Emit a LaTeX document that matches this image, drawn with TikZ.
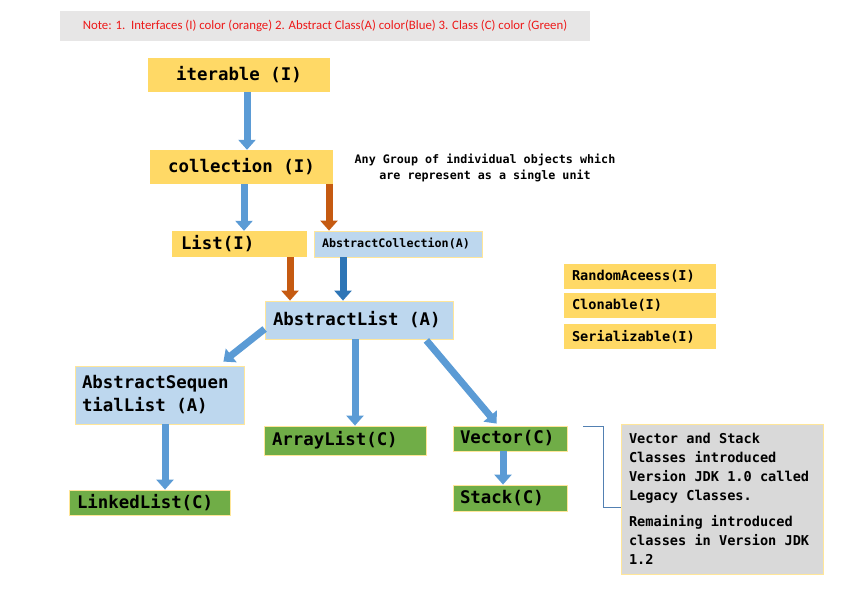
\documentclass[tikz,border=0pt]{standalone}
\usepackage{fontspec}
\setmonofont{DejaVu Sans Mono}[WordSpace={1,0,0}]
\newfontfamily\calfont{Carlito}
\usetikzlibrary{arrows.meta}
\definecolor{myellow}{rgb}{1, 0.851, 0.4}
\definecolor{mlblue}{rgb}{0.741, 0.843, 0.933}
\definecolor{mgreen}{rgb}{0.439, 0.678, 0.278}
\definecolor{mblue}{rgb}{0.357, 0.608, 0.835}
\definecolor{mdblue}{rgb}{0.18, 0.459, 0.714}
\definecolor{morange}{rgb}{0.773, 0.353, 0.067}
\definecolor{mgray}{rgb}{0.906, 0.902, 0.902}
\definecolor{lgray}{rgb}{0.851, 0.851, 0.851}
\definecolor{mborder}{rgb}{1, 0.902, 0.6}
\definecolor{mred}{rgb}{0.93, 0.1, 0.1}
\definecolor{mline}{rgb}{0.32, 0.5, 0.7}
\tikzset{bigtt/.style = {font=\ttfamily\bfseries\fontsize{17.4}{23}\selectfont}}
\tikzset{medtt/.style = {font=\ttfamily\bfseries\fontsize{13.6}{19}\selectfont}}
\tikzset{smalltt/.style = {font=\ttfamily\bfseries\fontsize{11.7}{16}\selectfont}}
\tikzset{iface/.style = {fill=myellow, inner xsep=8pt, inner ysep=0pt, align=flush left}}
\tikzset{absc/.style = {fill=mlblue, draw=mborder, line width=0.8pt, inner xsep=8pt, inner ysep=0pt, align=flush left}}
\tikzset{cls/.style = {fill=mgreen, draw=mborder, line width=0.8pt, inner xsep=8pt, inner ysep=0pt, align=flush left}}
\tikzset{arr/.style = {line width=7pt, -{Triangle[length=10pt, width=17pt]}}}

\begin{document}
\begin{tikzpicture}[x=1pt, y=-1pt]
  \useasboundingbox (0,0) rectangle (853,589);

  \node [fill=mgray, minimum width=530pt, minimum height=30pt, text=mred,
         font=\calfont\fontsize{12.8}{15}\selectfont] (note) at (325,26)
        {Note: 1.\ \ Interfaces (I) color (orange) 2. Abstract Class(A) color(Blue) 3. Class (C) color (Green)};

  \node [iface, bigtt, align=flush center, text width=166pt, minimum height=34pt] (iter) at (239,75) {iterable (I)};
  \node [iface, bigtt, align=flush center, text width=167pt, minimum height=34pt] (coll) at (241.5,167) {collection (I)};
  \node [smalltt, align=center] (grp) at (485,168) {Any Group of individual objects which\\are represent as a single unit};

  \node [iface, bigtt, text width=117pt, minimum height=26pt, inner xsep=9pt] (list) at (239.5,244) {List(I)};
  \node [absc, smalltt, text width=152pt, minimum height=26pt] (acoll) at (398,244) {AbstractCollection(A)};
  \node [absc, bigtt, text width=172pt, minimum height=38pt] (alist) at (359,320) {AbstractList (A)};

  \node [absc, bigtt, text width=155pt, minimum height=58pt, inner xsep=7pt] (asl) at (159.5,395) {AbstractSequen\\tialList (A)};
  \node [cls, bigtt, text width=146pt, minimum height=29pt] (alst) at (345,440.5) {ArrayList(C)};
  \node [cls, bigtt, text width=100pt, minimum height=25pt, inner xsep=7pt] (vec) at (510,438.5) {Vector(C)};
  \node [cls, bigtt, text width=100pt, minimum height=26pt, inner xsep=7pt] (stk) at (510,498) {Stack(C)};
  \node [cls, bigtt, text width=145pt, minimum height=25pt] (llist) at (149.5,502.5) {LinkedList(C)};

  \foreach \name/\y/\txt in {rand/276.5/RandomAceess(I), clon/305.5/Clonable(I), ser/336.5/Serializable(I)} {
    \node [iface, medtt, text width=136pt, minimum height=25pt] (\name) at (640,\y) {\txt};
  }

  \node [fill=lgray, draw=mborder, line width=0.8pt, medtt, align=flush left, text width=186pt,
         inner xsep=8pt, minimum height=150pt] (legacy) at (722,499)
        {Vector and Stack\\Classes introduced\\Version JDK 1.0 called\\Legacy Classes.\\[7pt]Remaining introduced\\classes in Version JDK\\1.2};

  \draw [arr, mblue] ([xshift=8pt]iter.south) -- ([xshift=5.5pt]coll.north);
  \draw [arr, mblue] ([xshift=2.5pt]coll.south) -- ([xshift=4.5pt]list.north);
  \draw [arr, morange] ([xshift=87.5pt]coll.south) -- ([xshift=-69pt]acoll.north);
  \draw [arr, morange] ([xshift=50.5pt]list.south) -- ([xshift=-69pt]alist.north);
  \draw [arr, mdblue] ([xshift=-55pt]acoll.south) -- ([xshift=-16pt]alist.north);

  \draw [arr, mblue] ([yshift=-9pt]alist.west) -- ([xshift=-21pt, yshift=4pt]asl.north east);
  \draw [arr, mblue] ([xshift=-4pt]alist.south) -- ([xshift=10pt]alst.north);
  \draw [arr, mblue] ([xshift=-27pt, yshift=-1pt]alist.south east) -- ([xshift=44pt, yshift=2pt]vec.north west);
  \draw [arr, mblue] ([xshift=5.5pt]asl.south) -- ([xshift=15.5pt]llist.north);
  \draw [arr, mblue] ([xshift=-7pt]vec.south) -- ([xshift=-7pt]stk.north);

  \coordinate (brk) at (583,426);
  \draw [mline, line width=0.9pt] (brk) -| (603,507) -- (legacy.west |- 0,507);
\end{tikzpicture}
\end{document}
